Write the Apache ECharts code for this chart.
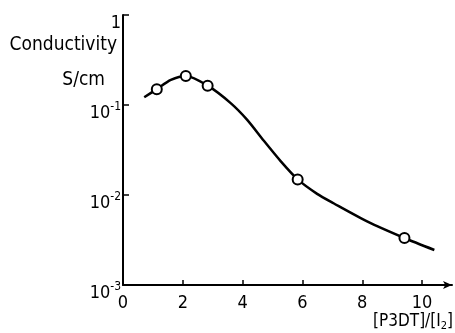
<!DOCTYPE html>
<html>
<head>
<meta charset="utf-8">
<script src="https://cdn.jsdelivr.net/npm/echarts@6/dist/echarts.min.js"></script>
<style>
  html, body { margin: 0; padding: 0; background: #fff; }
  #main { width: 455px; height: 333px; }
</style>
</head>
<body>
<div id="main"></div>
<script>
// measured points (ratio, conductivity S/cm)
var pointX = [1.13, 2.1, 2.83, 5.84, 9.41];
var pointY = [0.15, 0.21, 0.164, 0.0149, 0.00333];

// hand-drawn fitted curve
var curveX = [0.71, 1.13, 1.6, 2.1, 2.83, 3.6, 4.16, 4.71, 5.27, 5.84, 6.49, 7.04, 8.16, 9.41, 10.41];
var curveY = [0.122, 0.15, 0.19, 0.21, 0.164, 0.105, 0.068, 0.040, 0.0238, 0.0149, 0.0103, 0.0081, 0.0051, 0.00333, 0.00245];

var xTicks = [0, 2, 4, 6, 8, 10];
var yTicks = [0.001, 0.01, 0.1, 1];

function pairs(xs, ys) {
  return xs.map(function (x, i) { return [x, ys[i]]; });
}

var chartDom = document.getElementById('main');
var myChart = echarts.init(chartDom);
var font = '"DejaVu Sans Condensed", "DejaVu Sans"';

var option = {
  animation: false,
  backgroundColor: '#fff',
  grid: { left: 123, top: 15, right: 3, bottom: 48 },
  xAxis: {
    type: 'value',
    min: 0,
    max: 11,
    interval: 2,
    splitLine: { show: false },
    axisLine: {
      lineStyle: { color: '#000', width: 2 },
      symbol: ['none', 'arrow'],
      symbolSize: [6, 9]
    },
    axisTick: { inside: true, length: 5, lineStyle: { color: '#000', width: 1.5 } },
    axisLabel: {
      showMaxLabel: false,
      color: '#000',
      fontFamily: font,
      fontSize: 18,
      margin: 9,
      formatter: function (v) { return xTicks.indexOf(v) >= 0 ? String(v) : ''; }
    }
  },
  yAxis: {
    type: 'log',
    min: yTicks[0],
    max: yTicks[yTicks.length - 1],
    logBase: 10,
    splitLine: { show: false },
    axisLine: { show: true, lineStyle: { color: '#000', width: 2 } },
    axisTick: { inside: true, length: 6, lineStyle: { color: '#000', width: 1.5 } },
    axisLabel: {
      color: '#000',
      fontFamily: font,
      fontSize: 18,
      margin: 2,
      padding: [16, 0, 0, 0],
      formatter: function (v) {
        var e = Math.round(Math.log10(v));
        if (e === 0) return '1';
        return '10{s|' + e + '}';
      },
      rich: {
        s: { fontSize: 12, fontFamily: font, color: '#000', verticalAlign: 'top', padding: [0, 0, 12, 0] }
      }
    }
  },
  graphic: [
    { type: 'text', right: 338, top: 36, style: { text: 'Conductivity', font: '19px "DejaVu Sans Condensed", "DejaVu Sans"', fill: '#000' } },
    { type: 'text', right: 350, top: 71, style: { text: 'S/cm', font: '19px "DejaVu Sans Condensed", "DejaVu Sans"', fill: '#000' } },
    {
      type: 'text', right: 2, top: 313,
      style: {
        text: '[P3DT]/[I{sub|2}]',
        font: '17px "DejaVu Sans Condensed", "DejaVu Sans"',
        fill: '#000',
        rich: { sub: { fontSize: 11, fontFamily: font, fill: '#000', padding: [9, 0, 0, 0] } }
      }
    }
  ],
  series: [
    {
      type: 'line',
      data: pairs(curveX, curveY),
      smooth: 0.25,
      showSymbol: false,
      lineStyle: { color: '#000', width: 2.5 },
      z: 2
    },
    {
      type: 'scatter',
      data: pairs(pointX, pointY),
      symbol: 'circle',
      symbolSize: 10,
      itemStyle: { color: '#fff', borderColor: '#000', borderWidth: 2, opacity: 1 },
      z: 3
    }
  ]
};

option && myChart.setOption(option);
</script>
</body>
</html>
